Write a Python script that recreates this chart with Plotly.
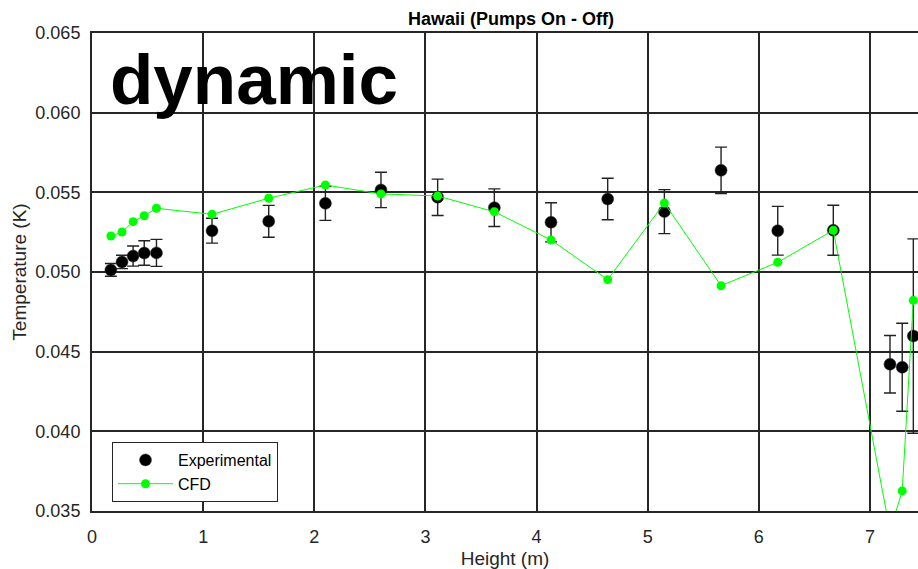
import plotly.graph_objects as go

# Measurement heights (m)
height = [0.17, 0.27, 0.37, 0.47, 0.58, 1.08, 1.59, 2.10, 2.60, 3.11,
          3.62, 4.13, 4.64, 5.15, 5.66, 6.17, 6.67, 7.18, 7.29, 7.39]

# Experimental temperature difference (K) and its uncertainty
exp_temp = [0.05013, 0.05063, 0.05100, 0.05119, 0.05120, 0.05259, 0.05318,
            0.05431, 0.05515, 0.05469, 0.05404, 0.05312, 0.05458, 0.05379,
            0.05638, 0.05259, 0.05262, 0.04421, 0.04402, 0.04598]
exp_err = [0.00040, 0.00042, 0.00063, 0.00077, 0.00085, 0.00078, 0.00100,
           0.00107, 0.00111, 0.00114, 0.00118, 0.00123, 0.00130, 0.00138,
           0.00146, 0.00153, 0.00157, 0.00180, 0.00276, 0.00610]

# CFD prediction (K)
cfd_temp = [0.05226, 0.05251, 0.05316, 0.05353, 0.05400, 0.05362, 0.05463,
            0.05546, 0.05490, 0.05477, 0.05378, 0.05201, 0.04952, 0.05433,
            0.04914, 0.05061, 0.05262, 0.03375, 0.03626, 0.04822]

x_ticks = [0, 1, 2, 3, 4, 5, 6, 7]
y_ticks = [0.035, 0.040, 0.045, 0.050, 0.055, 0.060, 0.065]
y_tick_labels = ["0.035", "0.040", "0.045", "0.050", "0.055", "0.060", "0.065"]

INK = "#262626"
FONT = "Liberation Sans, Arial, Helvetica, sans-serif"

fig = go.Figure()

fig.add_trace(go.Scatter(
    x=height, y=exp_temp, mode="markers", name="Experimental",
    marker=dict(color="black", size=12, line=dict(color="#333333", width=0.5)),
    error_y=dict(type="data", array=exp_err, visible=True,
                 color="#222222", thickness=1.4, width=6),
))

fig.add_trace(go.Scatter(
    x=height, y=cfd_temp, mode="lines+markers", name="CFD",
    line=dict(color="#00ff00", width=1),
    marker=dict(color="#00ff00", size=9),
))

fig.add_annotation(
    text="<b>dynamic</b>", xref="paper", yref="paper",
    x=(108 - 92) / 826, y=0.902, xanchor="left", yanchor="middle",
    showarrow=False, font=dict(family=FONT, size=71, color="black"),
)

fig.update_layout(
    width=918, height=569,
    margin=dict(l=92, r=0, t=33, b=58),
    paper_bgcolor="white", plot_bgcolor="white",
    font=dict(family=FONT, color=INK),
    title=dict(text="<b>Hawaii (Pumps On - Off)</b>", x=511 / 918, xref="container",
               xanchor="center", y=1 - 19 / 569, yref="container", yanchor="middle",
               font=dict(size=18, color="black")),
    legend=dict(
        x=(112 - 92) / 826, y=(511 - 502) / 478, xanchor="left", yanchor="bottom",
        bgcolor="white", bordercolor=INK, borderwidth=1,
        font=dict(size=16, color="black"), itemwidth=55,
        tracegroupgap=0,
    ),
    showlegend=True,
)

fig.update_xaxes(
    range=[0, 7.432], tickvals=x_ticks, ticktext=[str(v) for v in x_ticks],
    showgrid=True, gridcolor=INK, gridwidth=2,
    showline=True, linecolor=INK, linewidth=2, mirror=True,
    ticks="", zeroline=False,
    tickfont=dict(size=18, color=INK), ticklabelstandoff=8,
    title=dict(text="Height (m)", font=dict(size=19, color=INK), standoff=6),
)

fig.update_yaxes(
    range=[0.035, 0.065], tickvals=y_ticks, ticktext=y_tick_labels,
    showgrid=True, gridcolor=INK, gridwidth=2,
    showline=True, linecolor=INK, linewidth=2,
    ticks="", zeroline=False,
    tickfont=dict(size=18, color=INK), ticklabelstandoff=6,
    title=dict(text="Temperature (K)", font=dict(size=19, color=INK), standoff=4),
)

fig.write_html("out.html")
